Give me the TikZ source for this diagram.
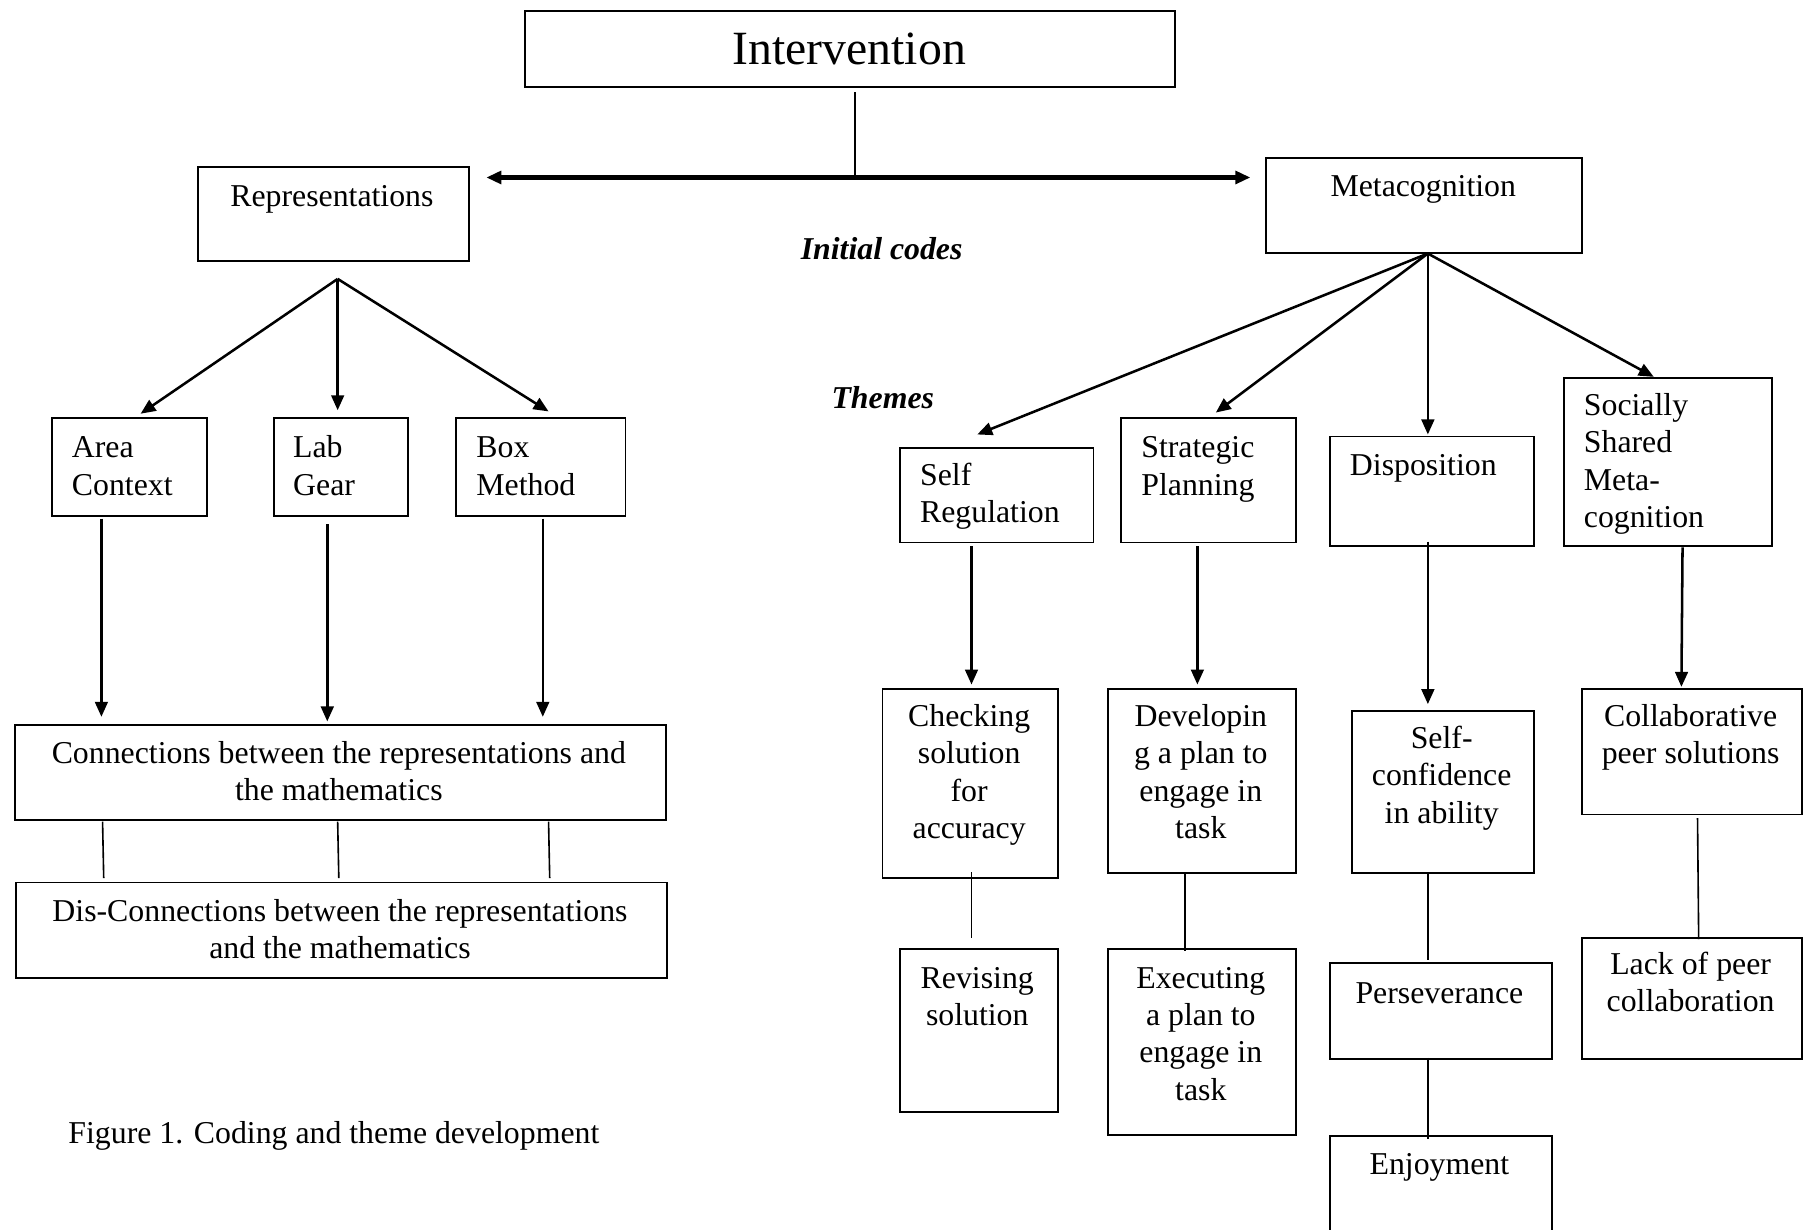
\documentclass[tikz,border=0pt]{standalone}
\usepackage{fontspec}
\setmainfont{Liberation Serif}
\usetikzlibrary{arrows.meta}
\begin{document}
\begin{tikzpicture}[x=0.5pt,y=-0.5pt,
  box/.style={draw, line width=0.8pt, inner sep=0pt, anchor=north west},
  txt/.style={inner sep=0pt, anchor=north, yshift=11.34pt, align=center, font=\fontsize{13.8}{16.2}\selectfont},
  txtl/.style={txt, anchor=north west, align=left},
  tip/.tip={Triangle[length=6.5pt,width=5.5pt]},
  arr/.style={line width=1.1pt, -tip},
  ln/.style={line width=0.7pt}]
\useasboundingbox (0,0) rectangle (1568,1067);
\clip (0,0) rectangle (1568,1067);

% ---------- boxes ----------
\node[box, minimum width=282pt, minimum height=33pt] (interv) at (455,9) {};
\node[box, minimum width=117.5pt, minimum height=41pt] (repr) at (171,144) {};
\node[box, minimum width=137pt, minimum height=41.5pt] (meta) at (1098,136) {};
\node[box, minimum width=67.5pt, minimum height=42.5pt] (area) at (44,362) {};
\node[box, minimum width=58pt, minimum height=42.5pt] (lab) at (237,362) {};
\node[box, minimum width=73.5pt, minimum height=42.5pt] (boxm) at (395,362) {};
\node[box, minimum width=282.5pt, minimum height=41.5pt] (conn) at (12,628) {};
\node[box, minimum width=282.5pt, minimum height=41.5pt] (disc) at (13,765) {};
\node[box, minimum width=84pt, minimum height=41pt] (selfreg) at (780,388) {};
\node[box, minimum width=76pt, minimum height=54pt] (strat) at (972,362) {};
\node[box, minimum width=88.5pt, minimum height=47.5pt] (disp) at (1153,378) {};
\node[box, minimum width=90.5pt, minimum height=73pt] (social) at (1356,327) {};
\node[box, minimum width=76pt, minimum height=82pt] (check) at (765,597) {};
\node[box, minimum width=81.5pt, minimum height=80pt] (devel) at (961,597) {};
\node[box, minimum width=79pt, minimum height=70.5pt] (selfconf) at (1172,616) {};
\node[box, minimum width=95.5pt, minimum height=54.5pt] (collab) at (1372,597) {};
\node[box, minimum width=68.5pt, minimum height=70.5pt] (revis) at (780,823) {};
\node[box, minimum width=81.5pt, minimum height=80.5pt] (exec) at (961,823) {};
\node[box, minimum width=96.5pt, minimum height=41.5pt] (persev) at (1153,835) {};
\node[box, minimum width=96.5pt, minimum height=60pt] (enjoy) at (1153,985) {};
\node[box, minimum width=95.5pt, minimum height=52.5pt] (lack) at (1372,813) {};

% ---------- texts ----------
\node[txt, yshift=5.46pt, font=\fontsize{20.7}{24}\selectfont] (t-interv) at (737,55.5) {\strut Intervention};
\node[txt] (t-repr) at (288,179) {\strut Representations};
\node[txt] (t-meta) at (1235,170) {\strut Metacognition};
\node[txt, font=\fontsize{13.8}{16.2}\selectfont\bfseries\itshape] (t-init) at (765,225) {\strut Initial codes};
\node[txt, font=\fontsize{13.8}{16.2}\selectfont\bfseries\itshape] (t-themes) at (766,354) {\strut Themes};
\node[txtl] (t-area) at (62,397) {\strut Area\\Context};
\node[txtl] (t-lab) at (254,397) {\strut Lab\\Gear};
\node[txtl] (t-boxm) at (413,397) {\strut Box\\Method};
\node[txt] (t-conn) at (294,662) {\strut Connections between the representations and\\the mathematics};
\node[txt] (t-disc) at (295,799) {\strut Dis-Connections between the representations\\and the mathematics};
\node[txtl] (t-fig) at (59,992) {\strut Figure 1. Coding and theme development};
\node[txtl] (t-selfreg) at (798,421) {\strut Self\\Regulation};
\node[txtl] (t-strat) at (990,397) {\strut Strategic\\Planning};
\node[txtl] (t-disp) at (1171,412) {\strut Disposition};
\node[txtl] (t-social) at (1374,360) {\strut Socially\\Shared\\Meta-\\cognition};
\node[txt] (t-check) at (841,630) {\strut Checking\\solution\\for\\accuracy};
\node[txt] (t-devel) at (1042,630) {\strut Developin\\g a plan to\\engage in\\task};
\node[txt] (t-selfconf) at (1251,649) {\strut Self-\\confidence\\in ability};
\node[txt] (t-collab) at (1467,630) {\strut Collaborative\\peer solutions};
\node[txt] (t-revis) at (848,857) {\strut Revising\\solution};
\node[txt] (t-exec) at (1042,857) {\strut Executing\\a plan to\\engage in\\task};
\node[txt] (t-persev) at (1249,870) {\strut Perseverance};
\node[txt] (t-enjoy) at (1249,1019) {\strut Enjoyment};
\node[txt] (t-lack) at (1467,845) {\strut Lack of peer\\collaboration};

% ---------- connector points ----------
\coordinate (ivtop) at (742,80);
\coordinate (hub) at (742,154);
\coordinate (hl) at (422,154);
\coordinate (hr) at (1085,154);
\coordinate (rf) at (293,242);
\coordinate (rfa) at (122,359);
\coordinate (rfb) at (293,356);
\coordinate (rfc) at (476,357);
\coordinate (mf) at (1239,220);
\coordinate (mfa) at (848,377);
\coordinate (mfb) at (1055,358);
\coordinate (mfc) at (1239,377);
\coordinate (mfd) at (1435,327);
\coordinate (d1s) at (88,450);   \coordinate (d1e) at (88,622);
\coordinate (d2s) at (284,455);  \coordinate (d2e) at (284,626);
\coordinate (d3s) at (471,450);  \coordinate (d3e) at (471,622);
\coordinate (l1s) at (89,713);   \coordinate (l1e) at (90,762);
\coordinate (l2s) at (293,713);  \coordinate (l2e) at (294,762);
\coordinate (l3s) at (476,713);  \coordinate (l3e) at (477,762);
\coordinate (r1s) at (843,474);  \coordinate (r1e) at (843,594);
\coordinate (r2s) at (1039,474); \coordinate (r2e) at (1039,594);
\coordinate (r3s) at (1239,470); \coordinate (r3e) at (1239,611);
\coordinate (r4s) at (1460,475); \coordinate (r4e) at (1459,596);
\coordinate (s1s) at (843,757);  \coordinate (s1e) at (843,814);
\coordinate (s2s) at (1028,757); \coordinate (s2e) at (1028,825);
\coordinate (s3s) at (1239,757); \coordinate (s3e) at (1239,833);
\coordinate (s4s) at (1473,710); \coordinate (s4e) at (1474,815);
\coordinate (s5s) at (1239,918); \coordinate (s5e) at (1239,988);

% ---------- connectors ----------
\draw[ln] (ivtop) -- (hub);
\draw[line width=1.8pt, tip-tip] (hl) -- (hr);
\draw[arr] (rf) -- (rfa);
\draw[arr] (rf) -- (rfb);
\draw[arr] (rf) -- (rfc);
\draw[arr] (mf) -- (mfa);
\draw[arr] (mf) -- (mfb);
\draw[arr] (mf) -- (mfc);
\draw[arr] (mf) -- (mfd);
\draw[arr] (d1s) -- (d1e);
\draw[arr] (d2s) -- (d2e);
\draw[arr] (d3s) -- (d3e);
\draw[ln] (l1s) -- (l1e);
\draw[ln] (l2s) -- (l2e);
\draw[ln] (l3s) -- (l3e);
\draw[arr] (r1s) -- (r1e);
\draw[arr] (r2s) -- (r2e);
\draw[arr] (r3s) -- (r3e);
\draw[arr] (r4s) -- (r4e);
\draw[ln] (s1s) -- (s1e);
\draw[ln] (s2s) -- (s2e);
\draw[ln] (s3s) -- (s3e);
\draw[ln] (s4s) -- (s4e);
\draw[ln] (s5s) -- (s5e);
\end{tikzpicture}
\end{document}
